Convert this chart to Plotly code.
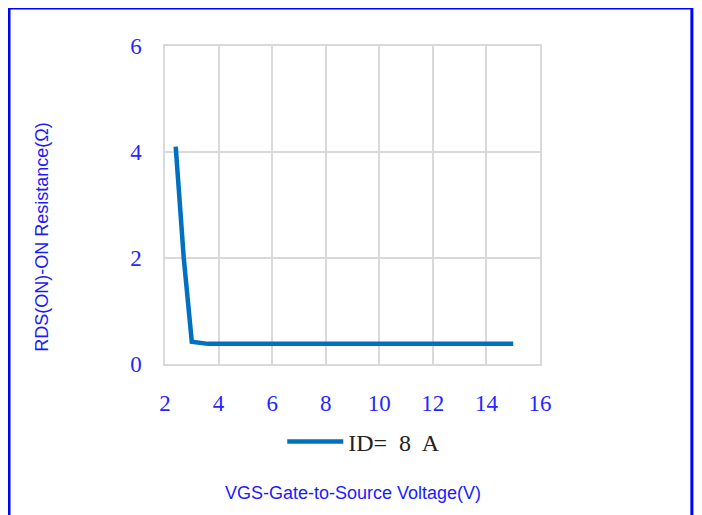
import plotly.graph_objects as go

# data
vgs = [2.4, 2.7, 3.0, 3.6, 4.5, 6, 8, 10, 12, 15]
rds_on = [4.1, 2.0, 0.42, 0.38, 0.38, 0.38, 0.38, 0.38, 0.38, 0.38]
series_name = "ID=  8  A"

x_ticks = [2, 4, 6, 8, 10, 12, 14, 16]
y_ticks = [0, 2, 4, 6]

tick_color = "#2626ff"
title_color = "#1a1aff"
grid = "#d9d9d9"

fig = go.Figure()
fig.add_trace(go.Scatter(
    x=vgs, y=rds_on, mode="lines", name=series_name,
    line=dict(color="#0070c0", width=4.5),
))

axis_common = dict(
    showgrid=True, gridcolor=grid, gridwidth=1.5,
    zeroline=False, showline=True, mirror=True, linecolor=grid, linewidth=1.5,
    ticks="",
    tickfont=dict(family="Liberation Serif", size=23, color=tick_color),
)

fig.update_layout(
    width=702, height=515,
    margin=dict(l=157, r=170, t=38, b=159),
    paper_bgcolor="white", plot_bgcolor="white",
    showlegend=True,
    legend=dict(
        orientation="h", x=0.53, xanchor="center", y=-0.245, yanchor="middle",
        font=dict(family="Liberation Serif", size=24, color="#222222"),
        itemwidth=56,
    ),
    xaxis=dict(range=[2, 16], tickvals=x_ticks, ticklabelstandoff=18, **axis_common),
    yaxis=dict(range=[0, 6], tickvals=y_ticks, ticklabelstandoff=17, **axis_common),
    annotations=[
        dict(text="VGS-Gate-to-Source Voltage(V)", xref="paper", yref="paper",
             x=0.5, y=-0.405, showarrow=False, xanchor="center", yanchor="middle",
             font=dict(family="Liberation Sans", size=18, color=title_color)),
        dict(text="RDS(ON)-ON Resistance(Ω)", xref="paper", yref="paper",
             x=-0.328, y=0.397, showarrow=False, textangle=-90,
             xanchor="center", yanchor="middle",
             font=dict(family="Liberation Sans", size=18, color=title_color)),
    ],
    shapes=[
        dict(type="rect", xref="paper", yref="paper",
             x0=-0.416, x1=1.405, y0=-0.6, y1=1.1195,
             line=dict(color="#0000ff", width=3), layer="above"),
    ],
)

fig.write_html("out.html")
